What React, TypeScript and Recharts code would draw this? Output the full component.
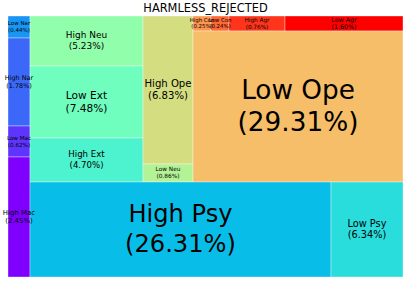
import { Treemap } from 'recharts'

const labels = [
  'High Mac', 'Low Mac', 'High Nar', 'Low Nar', 'High Psy', 'Low Psy', 'High Ext', 'Low Ext',
  'High Neu', 'Low Neu', 'High Ope', 'Low Ope', 'High Con', 'Low Con', 'High Agr', 'Low Agr',
]
const shares = [2.45, 0.62, 1.78, 0.44, 26.31, 6.34, 4.70, 7.48, 5.23, 0.86, 6.83, 29.31, 0.25, 0.24, 0.76, 1.60]

// grouping of the cells (indices into labels), so recharts' squarify puts them where the original has them
type Group = number | Group[]
const groups: Group[] = [3, 2, 1, 0, [[8, 7, 6, 10, 9, [[12, 13, 14, 15], 11]], [4, 5]]]

const toNode = (g: Group): any =>
  typeof g === 'number'
    ? { name: labels[g], size: shares[g], idx: g }
    : { name: '', children: g.map(toNode) }

const data = groups.map(toNode)

// matplotlib "rainbow" colormap
const rainbow = (t: number) => {
  const r = Math.min(1, Math.abs(2 * t - 0.5))
  const g = Math.sin(Math.PI * t)
  const b = Math.cos((Math.PI * t) / 2)
  return `rgb(${Math.round(r * 255)},${Math.round(g * 255)},${Math.round(b * 255)})`
}

const isLeaf = (p: any) => !(p.children && p.children.length) && p.idx !== undefined

const Box = (props: any) => {
  if (!isLeaf(props)) return <g />
  const { x, y, width, height, idx } = props
  return (
    <rect
      x={x} y={y} width={width} height={height}
      fill={rainbow(idx / (labels.length - 1))}
      stroke="#fff" strokeWidth={0.5} strokeOpacity={0.7}
    />
  )
}

const Label = (props: any) => {
  if (!isLeaf(props)) return <g />
  const { x, y, width, height, idx, name } = props
  const fs = 5.2 + 0.72 * shares[idx]
  const cx = x + width / 2
  const cy = y + height / 2
  return (
    <text textAnchor="middle" fontSize={fs} fill="#000" fontFamily="DejaVu Sans" stroke="none">
      <tspan x={cx} y={cy - 0.3 * fs}>{name}</tspan>
      <tspan x={cx} y={cy + 0.92 * fs}>({shares[idx].toFixed(2)}%)</tspan>
    </text>
  )
}

export default function App() {
  return (
    <div style={{ position: 'absolute', left: 0, top: 0, width: 407, height: 282, background: '#fff', fontFamily: 'DejaVu Sans' }}>
      <style>{'.recharts-surface, .recharts-wrapper { overflow: visible !important; }'}</style>
      <div style={{ position: 'absolute', left: 8, top: 2, width: 395, textAlign: 'center', fontSize: 11.4, lineHeight: '13px', color: '#000' }}>
        HARMLESS_REJECTED
      </div>
      <div style={{ position: 'absolute', left: 8, top: 16 }}>
        <Treemap
          width={395} height={261} data={data} dataKey="size" nameKey="name"
          aspectRatio={2} isAnimationActive={false} content={Box}
        />
      </div>
      <div style={{ position: 'absolute', left: 8, top: 16 }}>
        <Treemap
          width={395} height={261} data={data} dataKey="size" nameKey="name"
          aspectRatio={2} isAnimationActive={false} content={Label}
        />
      </div>
    </div>
  )
}
